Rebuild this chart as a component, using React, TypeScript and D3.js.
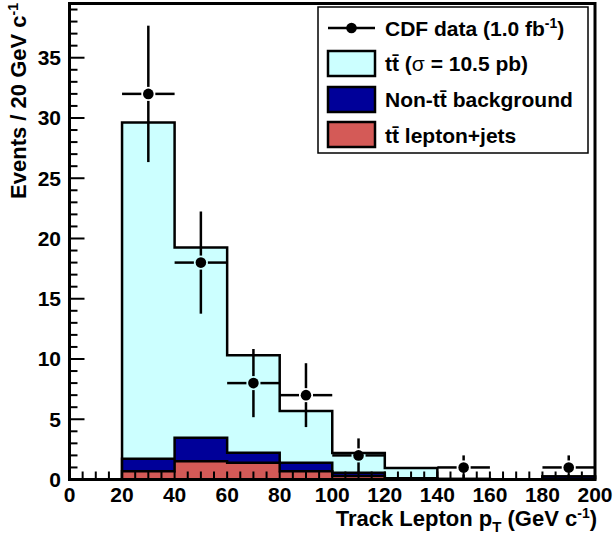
import React from 'react';
import * as d3 from 'd3';

// ---- data ----
const binLow = [0, 20, 40, 60, 80, 100, 120, 140, 160, 180];
const binWidth = 20;
const ljets = [0, 0.69, 1.52, 1.38, 0.69, 0.3, 0.05, 0, 0, 0];
const nonTT = [0, 1.03, 1.94, 0.83, 0.69, 0.25, 0.05, 0.05, 0, 0.25];
const ttSignal = [0, 27.9, 15.8, 8.1, 4.3, 1.65, 0.85, 0, 0, 0];
const dataCounts = [0, 32, 18, 8, 7, 2, 0, 1, 0, 1];
const dataErr = [0, 5.66, 4.24, 2.83, 2.65, 1.41, 0, 1, 0, 1];
const xTickLabels = [0, 20, 40, 60, 80, 100, 120, 140, 160, 180, 200];
const yTickLabels = [0, 5, 10, 15, 20, 25, 30, 35];

const W = 616;
const H = 539;
const FONT = "'Liberation Sans', Arial, Helvetica, sans-serif";

const colors = {
  ttSignal: '#ccffff',
  nonTT: '#000099',
  ljets: '#d45a57',
};

export default function App() {
  const x = d3.scaleLinear().domain([0, 200]).range([69.5, 595]);
  const y = d3.scaleLinear().domain([0, 39.5]).range([479.5, 3.5]);

  const rows = binLow.map((b, i) => ({ low: b, ljets: ljets[i], nonTT: nonTT[i], ttSignal: ttSignal[i] }));
  const stack = d3.stack<any>().keys(['ljets', 'nonTT', 'ttSignal']);
  const layers = stack(rows);

  const stepPts = (tops: number[]) => {
    const pts: [number, number][] = [];
    tops.forEach((t, i) => {
      pts.push([binLow[i], t]);
      pts.push([binLow[i] + binWidth, t]);
    });
    return pts;
  };
  const area = d3.area<[number, number]>().x(d => x(d[0])).y0(y(0)).y1(d => y(d[1]));
  const line = d3.line<[number, number]>().x(d => x(d[0])).y(d => y(d[1]));

  const drawOrder = [
    { key: 'ttSignal', tops: layers[2].map(d => d[1]) },
    { key: 'nonTT', tops: layers[1].map(d => d[1]) },
    { key: 'ljets', tops: layers[0].map(d => d[1]) },
  ];

  const yMinor = d3.range(0, 40, 1);
  const xMinor = d3.range(0, 201, 5);

  const gap = 7;

  return (
    <svg width={W} height={H} style={{ position: 'absolute', left: 0, top: 0, background: '#fff' }}
      fontFamily={FONT} fontWeight="bold">
      <rect x={0} y={0} width={W} height={H} fill="#fff" />
      {drawOrder.map(l => {
        const pts = stepPts(l.tops);
        const outline: [number, number][] = [[0, 0], ...pts, [200, 0]];
        return (
          <g key={l.key}>
            <path d={area(pts) || ''} fill={(colors as any)[l.key]} stroke="none" />
            <path d={line(outline) || ''} fill="none" stroke="#000" strokeWidth={2.5} strokeLinejoin="miter" />
          </g>
        );
      })}

      {/* ticks */}
      {yMinor.map(v => (
        <line key={'yt' + v} x1={x(0)} x2={x(0) + (v % 5 === 0 ? 15 : 8)} y1={y(v)} y2={y(v)} stroke="#000" strokeWidth={2} />
      ))}
      {xMinor.map(v => (
        <line key={'xt' + v} x1={x(v)} x2={x(v)} y1={y(0)} y2={y(0) - 8} stroke="#000" strokeWidth={2} />
      ))}

      {/* frame */}
      <rect x={x(0)} y={y(39.5)} width={x(200) - x(0)} height={y(0) - y(39.5)} fill="none" stroke="#000" strokeWidth={3} />

      {/* data points */}
      {binLow.map((b, i) => {
        const n = dataCounts[i];
        if (!(n > 0)) return null;
        const cx = x(b + binWidth / 2);
        const cy = y(n);
        return (
          <g key={'d' + i} stroke="#000" strokeWidth={2.5}>
            <line x1={x(b)} x2={cx - gap} y1={cy} y2={cy} />
            <line x1={cx + gap} x2={x(b + binWidth)} y1={cy} y2={cy} />
            <line x1={cx} x2={cx} y1={y(n + dataErr[i])} y2={cy - gap} />
            <line x1={cx} x2={cx} y1={cy + gap} y2={y(Math.max(0, n - dataErr[i]))} />
            <circle cx={cx} cy={cy} r={5.3} fill="#000" stroke="none" />
          </g>
        );
      })}

      {/* tick labels */}
      {yTickLabels.map(v => (
        <text key={'yl' + v} x={61} y={y(v) + 7.5} textAnchor="end" fontSize={21}>{v}</text>
      ))}
      {xTickLabels.map(v => (
        <text key={'xl' + v} x={x(v)} y={502} textAnchor="middle" fontSize={21}>{v}</text>
      ))}

      {/* axis titles */}
      <text x={597} y={526} textAnchor="end" fontSize={22}>
        Track Lepton p<tspan fontSize={15} dy={6}>T</tspan><tspan dy={-6}> (GeV c</tspan><tspan fontSize={14} dy={-8}>-1</tspan><tspan dy={8}>)</tspan>
      </text>
      <text transform="translate(26,3) rotate(-90)" textAnchor="end" fontSize={22}>
        Events / 20 GeV c<tspan fontSize={14} dy={-8}>-1</tspan>
      </text>

      {/* legend */}
      <rect x={318} y={7} width={270} height={146} fill="#fff" stroke="#000" strokeWidth={1.5} />
      <g stroke="#000" strokeWidth={2.5}>
        <line x1={328} x2={375} y1={28} y2={28} />
      </g>
      <circle cx={351.5} cy={28} r={5.3} fill="#000" />
      <rect x={328} y={51} width={47} height={25} fill={colors.ttSignal} stroke="#000" strokeWidth={2.5} />
      <rect x={328} y={87} width={47} height={25} fill={colors.nonTT} stroke="#000" strokeWidth={2.5} />
      <rect x={328} y={122} width={47} height={25} fill={colors.ljets} stroke="#000" strokeWidth={2.5} />
      <text x={385} y={35.5} fontSize={21}>
        CDF data (1.0 fb<tspan fontSize={14} dy={-8}>-1</tspan><tspan dy={8}>)</tspan>
      </text>
      <text x={385} y={71} fontSize={21}>
        tt&#x0304; (<tspan fontWeight="normal">σ</tspan> = 10.5 pb)
      </text>
      <text x={385} y={107} fontSize={21}>
        Non-tt&#x0304; background
      </text>
      <text x={385} y={142.5} fontSize={21}>
        tt&#x0304; lepton+jets
      </text>
    </svg>
  );
}
